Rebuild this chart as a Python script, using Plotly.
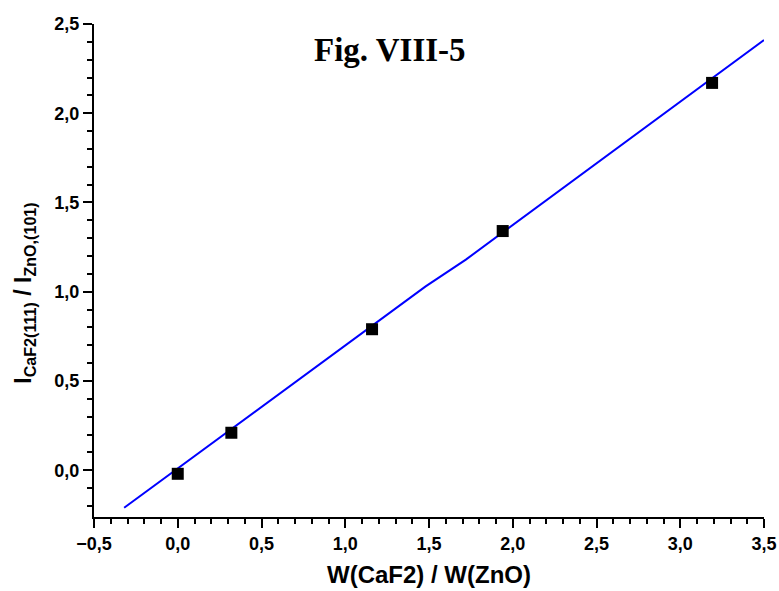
import plotly.graph_objects as go

# Data
x_points = [0.0, 0.32, 1.16, 1.94, 3.19]
y_points = [-0.02, 0.21, 0.79, 1.34, 2.17]
fit_x = [-0.32, 1.48, 1.72, 3.5]
fit_y = [-0.21, 1.03, 1.18, 2.41]

x_ticks = [-0.5, 0.0, 0.5, 1.0, 1.5, 2.0, 2.5, 3.0, 3.5]
y_ticks = [0.0, 0.5, 1.0, 1.5, 2.0, 2.5]

FONT = "Liberation Sans, Arial, sans-serif"

fig = go.Figure()
fig.add_trace(go.Scatter(x=fit_x, y=fit_y, mode="lines",
                         line=dict(color="#0000ff", width=2), showlegend=False))
fig.add_trace(go.Scatter(x=x_points, y=y_points, mode="markers",
                         marker=dict(symbol="square", size=12, color="black"),
                         showlegend=False))

axis_common = dict(
    showgrid=False, zeroline=False, showline=True, linecolor="black", linewidth=2,
    ticks="outside", ticklen=9, tickwidth=2, tickcolor="black",
    tickfont=dict(family=FONT, size=18, color="black", weight="bold"),
    tickformat=".1f", automargin=False, ticklabeloverflow="allow",
    minor=dict(dtick=0.1, ticks="outside", ticklen=5, tickwidth=2, tickcolor="black"),
)

fig.update_xaxes(range=[-0.5, 3.5], tickvals=x_ticks,
                 title=dict(text="W(CaF2) / W(ZnO)", standoff=14,
                            font=dict(family=FONT, size=24, color="black", weight="bold")),
                 **axis_common)
fig.update_yaxes(range=[-0.262, 2.5], tickvals=y_ticks, **axis_common)

fig.add_annotation(text="<b>I<sub>CaF2(111)</sub> / I<sub>ZnO,(101)</sub></b>",
                   xref="paper", yref="paper", x=-0.103, y=0.455,
                   xanchor="center", yanchor="middle", textangle=-90, showarrow=False,
                   font=dict(family=FONT, size=23, color="black"))

fig.add_annotation(text="<b>Fig. VIII-5</b>", xref="paper", yref="paper",
                   x=0.442, y=0.947, xanchor="center", yanchor="middle", showarrow=False,
                   font=dict(family="Liberation Serif, Times New Roman, serif", size=33, color="black"))

fig.update_layout(
    width=779, height=591,
    margin=dict(l=94, r=15, t=24, b=74),
    paper_bgcolor="white", plot_bgcolor="white",
    separators=", ",
    hovermode=False,
)

fig.write_html("out.html",
               config={"displayModeBar": False, "staticPlot": True},
               post_script="document.body.style.margin='0';document.body.style.overflow='hidden';")
